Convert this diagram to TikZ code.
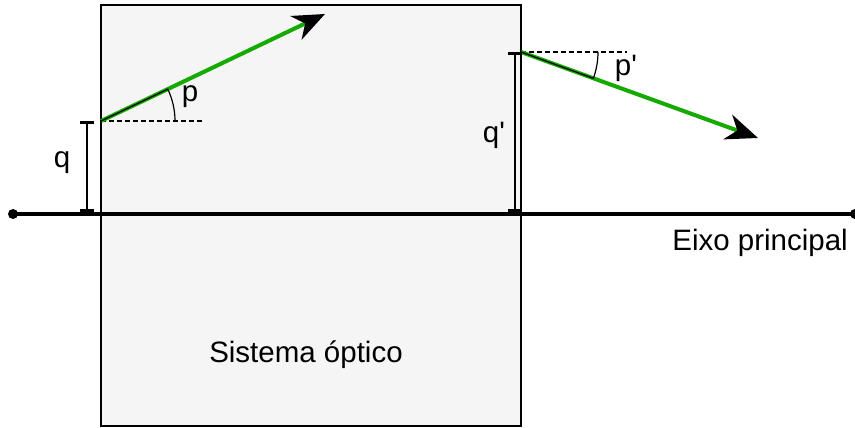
\documentclass[tikz,border=0pt]{standalone}
\usepackage{fontspec}
\setmainfont{Liberation Sans}
\usepackage{xcolor}
\usepackage{tikz}
\usetikzlibrary{arrows.meta, calc, positioning}
\definecolor{raygreen}{RGB}{20, 170, 0}
\definecolor{boxgray}{RGB}{245, 245, 245}

\begin{document}
\begin{tikzpicture}[x=1pt, y=1pt,
    lbl/.style={font=\fontsize{29.5}{34}\selectfont, inner sep=0pt},
    ray/.style={raygreen, line width=4pt, -{Stealth[length=32pt, width=26pt, inset=10pt, black]}},
    dim/.style={line width=2.6pt, |-|},
    refline/.style={dash pattern=on 5pt off 3pt, line width=1.4pt},
    axisline/.style={line width=4pt}]
    \useasboundingbox (0,0) rectangle (855,428);

    % optical system
    \draw[fill=boxgray, line width=1.1pt] (101,2) rectangle (521,423);
    \node[lbl] (sys) at (306,73) {Sistema óptico};

    % principal axis
    \coordinate (axl) at (13,214);
    \coordinate (axr) at (855,214);
    \draw[axisline] (axl) -- (axr);
    \fill (axl) circle (5);
    \fill (axr) circle (5);
    \node[lbl, anchor=east] (axis) at (848,185) {Eixo principal};

    % input ray
    \coordinate (o1) at (101,307);
    \coordinate (t1) at (325,414);
    \coordinate (h1) at (203,307);
    \draw[refline] (o1) -- (h1);
    \draw[ray] (o1) -- (t1);
    \draw[line width=1.2pt] (o1) -- ++(25.5:74) arc (25.5:0:74);
    \node[lbl] (p) at (190,331) {p};
    \draw[dim] (87,307) -- (87,216);
    \node[lbl] (q) at (62,265) {q};

    % output ray
    \coordinate (o2) at (521,376);
    \coordinate (t2) at (758,290);
    \coordinate (h2) at (627,376);
    \draw[refline] (o2) -- (h2);
    \draw[ray] (o2) -- (t2);
    \draw[line width=1.2pt] (o2) -- ++(-20:77) arc (-20:0:77);
    \node[lbl] (pp) at (626,360) {p\textquotesingle};
    \draw[dim] (515,376) -- (515,216);
    \node[lbl] (qq) at (494,293) {q\textquotesingle};
\end{tikzpicture}
\end{document}
